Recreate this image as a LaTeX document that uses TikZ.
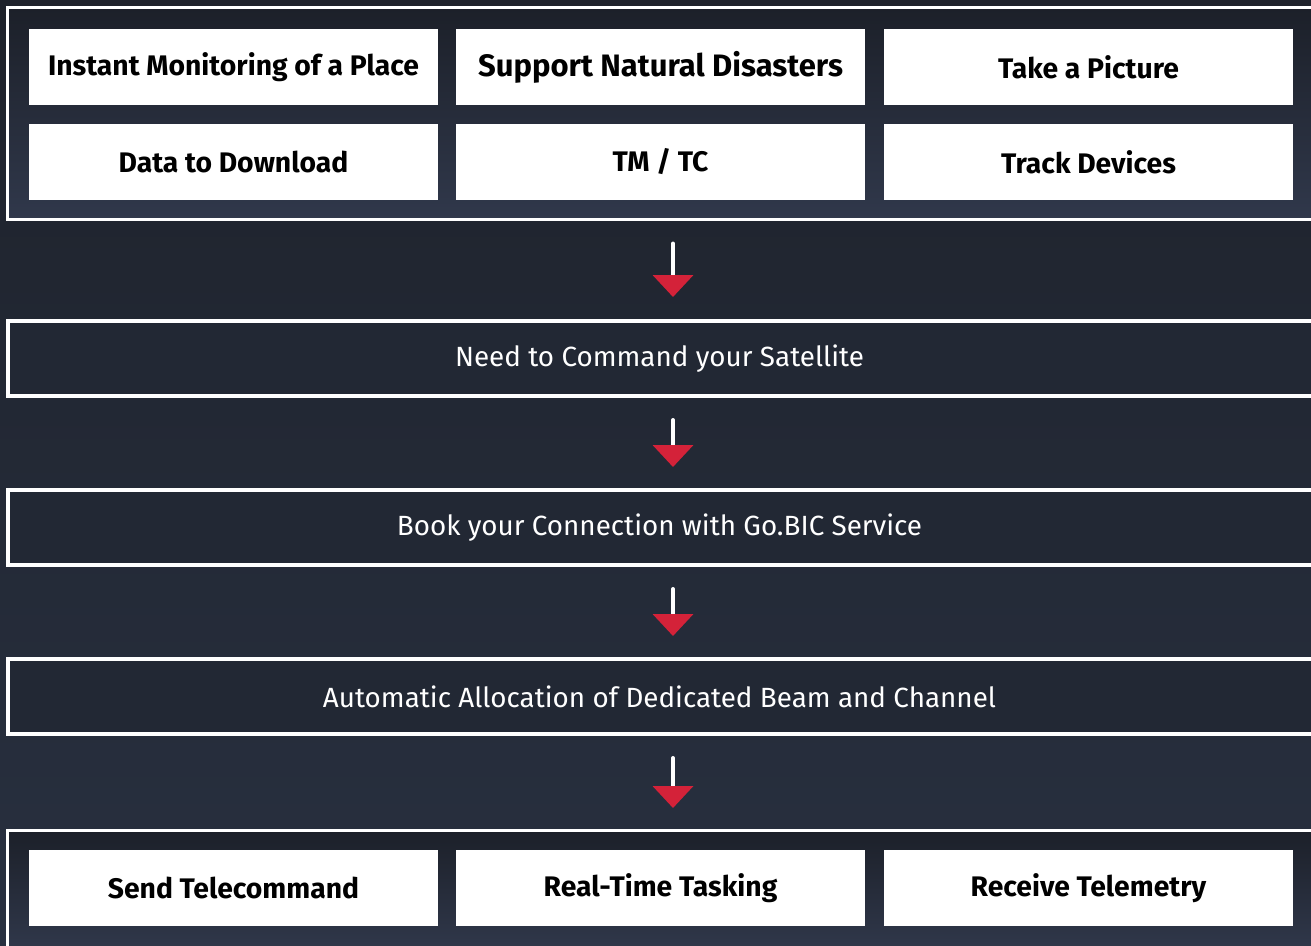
\documentclass[tikz,border=0pt]{standalone}
\usepackage{fontspec}
\setmainfont{Fira Sans}
\usetikzlibrary{arrows.meta}
\definecolor{bgtop}{HTML}{1E222B}
\definecolor{bgbot}{HTML}{283040}
\definecolor{frtop}{HTML}{1C2029}
\definecolor{frbot}{HTML}{30384B}
\definecolor{midfill}{HTML}{222834}
\definecolor{arrred}{HTML}{D42239}
\tikzset{
  card/.style={fill=white, minimum width=409pt, minimum height=76pt, inner sep=0pt,
    font=\fontsize{28.3}{31}\selectfont\bfseries, text=black},
  frame/.style={draw=white, line width=3pt, top color=frtop, bottom color=frbot,
    minimum width=1331pt, inner sep=0pt},
  band/.style={draw=white, line width=4pt, fill=midfill, minimum width=1331pt,
    minimum height=75pt, inner sep=0pt, text=white, font=\fontsize{27.8}{30}\selectfont},
  flow/.style={white, line width=4pt, line cap=round,
    -{Triangle[width=40pt,length=22pt,color=arrred,line cap=butt]}},
}
\begin{document}
\begin{tikzpicture}[x=1pt,y=-1pt]
\useasboundingbox (0,0) rectangle (1311,945);
\clip (0,0) rectangle (1311,945);
\shade[top color=bgtop, bottom color=bgbot] (0,0) rectangle (1311,945);
% frames
\node[frame, minimum height=212pt] (top) at (673,113.5) {};
\node[frame, minimum height=120pt] (bot) at (673,890.5) {};
% top cards
\node[card] (c11) at (233.5,67) {Instant Monitoring of a Place};
\node[card, font=\fontsize{31}{33}\selectfont\bfseries] (c12) at (660.5,67) {Support Natural Disasters};
\node[card] (c13) at (1088.5,67) {Take a Picture};
\node[card] (c21) at (233.5,162) {Data to Download};
\node[card] (c22) at (660.5,162) {TM / TC};
\node[card] (c23) at (1088.5,162) {Track Devices};
% bands
\node[band] (cmd) at (673,358.5) {\hspace*{-27pt}Need to Command your Satellite};
\node[band] (book) at (673,527.5) {\hspace*{-27pt}Book your Connection with Go.BIC Service};
\node[band] (alloc) at (673,696.5) {\hspace*{-27pt}Automatic Allocation of Dedicated Beam and Channel};
% bottom cards
\node[card] (b1) at (233.5,888) {Send Telecommand};
\node[card] (b2) at (660.5,888) {Real-Time Tasking};
\node[card] (b3) at (1088.5,888) {Receive Telemetry};
% arrows
\draw[flow] ([yshift=-22.5pt]top.south) -- ([yshift=22pt]cmd.north);
\draw[flow] ([yshift=-22pt]cmd.south) -- ([yshift=21pt]book.north);
\draw[flow] ([yshift=-22pt]book.south) -- ([yshift=21pt]alloc.north);
\draw[flow] ([yshift=-22pt]alloc.south) -- ([yshift=21pt]bot.north);
\end{tikzpicture}
\end{document}
